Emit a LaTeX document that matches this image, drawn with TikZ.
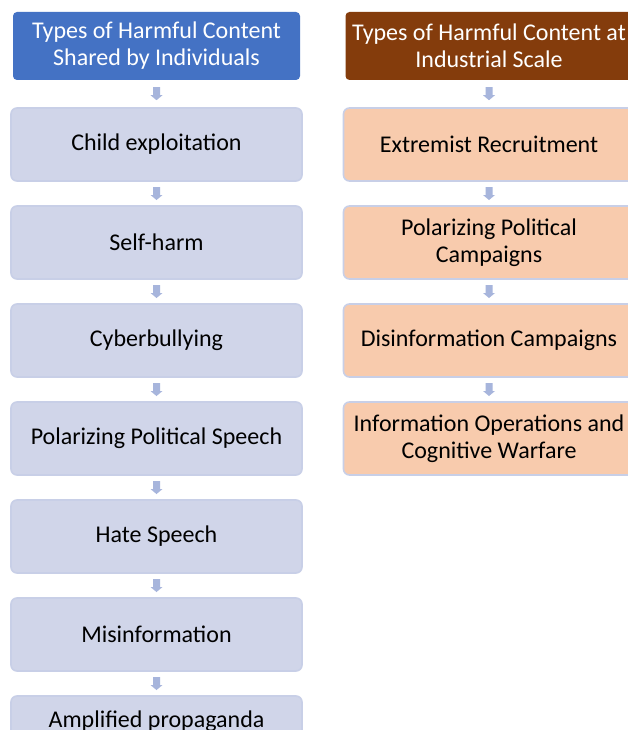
\documentclass[tikz,border=0pt]{standalone}
\usepackage{fontspec}
\setmainfont{Carlito}
\usetikzlibrary{calc}
\definecolor{hdrblue}{HTML}{4472C4}
\definecolor{hdrbrown}{HTML}{843C0C}
\definecolor{lavfill}{HTML}{D0D5E9}
\definecolor{lavedge}{HTML}{C8CFE7}
\definecolor{peachfill}{HTML}{F8CBAD}
\definecolor{arrowblue}{HTML}{A7B5DC}
\tikzset{
  boxfont/.style={font=\fontsize{24}{27}\selectfont},
  header/.style={rounded corners=4pt, minimum width=287pt, minimum height=68pt,
    text=white, align=center, inner sep=0pt, boxfont},
  itembox/.style={rounded corners=6pt, draw=lavedge, line width=1.6pt,
    minimum width=291pt, minimum height=73pt, align=center, inner sep=0pt, boxfont},
  leftbox/.style={itembox, fill=lavfill},
  rightbox/.style={itembox, fill=peachfill},
  boxtext/.style={align=center, inner sep=0pt, boxfont}
}
\begin{document}
\begin{tikzpicture}[x=1pt,y=-1pt]
\useasboundingbox (0,0) rectangle (628,730);
\clip (0,0) rectangle (628,730);
\fill[white] (0,0) rectangle (628,730);

% left column: content shared by individuals
\node[header, fill=hdrblue] (lh) at (156.5,46) {Types of Harmful Content\\Shared by Individuals};
\node[leftbox] (l1) at (156.5,144.5) {Child exploitation};
\node[leftbox] (l2) at (156.5,242.5) {Self-harm};
\node[leftbox] (l3) at (156.5,340.5) {Cyberbullying};
\node[leftbox] (l4) at (156.5,438.5) {Polarizing Political Speech};
\node[leftbox] (l5) at (156.5,536.5) {Hate Speech};
\node[leftbox] (l6) at (156.5,634.5) {Misinformation};
\node[leftbox] (l7) at (156.5,732.5) {};
\node[boxtext, anchor=base] (l7t) at (156.5,727) {Amplified propaganda};

% right column: content at industrial scale
\node[header, fill=hdrbrown] (rh) at (489,46) {Types of Harmful Content at\\Industrial Scale};
\node[rightbox] (r1) at (489,144.5) {Extremist Recruitment};
\node[rightbox] (r2) at (489,242.5) {Polarizing Political\\Campaigns};
\node[rightbox] (r3) at (489,340.5) {Disinformation Campaigns};
\node[rightbox] (r4) at (489,438.5) {Information Operations and\\Cognitive Warfare};

% small block arrows between consecutive boxes
\foreach \a/\b in {lh/l1,l1/l2,l2/l3,l3/l4,l4/l5,l5/l6,l6/l7,rh/r1,r1/r2,r2/r3,r3/r4}{
  \coordinate (m) at ($(\a.south)!0.5!(\b.north)$);
  \fill[arrowblue] ($(m)+(-3.5,-6.5)$) -- ++(7,0) -- ++(0,8) -- ++(2.5,0)
    -- ++(-6,5) -- ++(-6,-5) -- ++(2.5,0) -- cycle;
}
\end{tikzpicture}
\end{document}
